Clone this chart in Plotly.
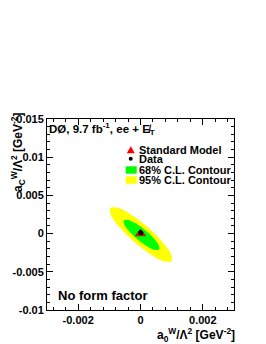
import plotly.graph_objects as go

# 95% C.L. contour (a0, aC)
c95_a0 = [0.000998, 0.000973, 0.000688, 0.000226, -0.000294, -0.00073, -0.000966,
          -0.000941, -0.000656, -0.000195, 0.000326, 0.000762]
c95_aC = [-0.00361, -0.00264, -0.00102, 0.000852, 0.00246, 0.00337, 0.00335,
          0.00238, 0.000755, -0.00111, -0.00272, -0.00363]
# 68% C.L. contour
c68_a0 = [0.000598, 0.000584, 0.000422, 0.000155, -0.000145, -0.000397, -0.000534,
          -0.00052, -0.000358, -0.0000909, 0.000208, 0.000461]
c68_aC = [-0.00208, -0.00152, -0.000605, 0.000432, 0.00131, 0.00179, 0.00174,
          0.00119, 0.000267, -0.000771, -0.00165, -0.00213]
sm_a0 = [0.0]
sm_aC = [0.0]
data_a0 = [0.00001]
data_aC = [0.0001]

x_ticks = [-0.002, 0, 0.002]
x_labels = ["-0.002", "0", "0.002"]
y_ticks = [-0.01, -0.005, 0, 0.005, 0.01, 0.015]
y_labels = ["-0.01", "-0.005", "0", "0.005", "0.01", "0.015"]

FONT = "Liberation Sans, Arial, sans-serif"

fig = go.Figure()
fig.add_trace(go.Scatter(x=c95_a0 + c95_a0[:1], y=c95_aC + c95_aC[:1], mode="lines",
                         fill="toself", fillcolor="#ffff00",
                         line=dict(width=0, color="#ffff00", shape="spline", smoothing=1.0),
                         hoverinfo="skip", showlegend=False))
fig.add_trace(go.Scatter(x=c68_a0 + c68_a0[:1], y=c68_aC + c68_aC[:1], mode="lines",
                         fill="toself", fillcolor="#00ff00",
                         line=dict(width=0, color="#00ff00", shape="spline", smoothing=1.0),
                         hoverinfo="skip", showlegend=False))
fig.add_trace(go.Scatter(x=sm_a0, y=sm_aC, mode="markers",
                         marker=dict(symbol="triangle-up", size=9, color="#ff0000",
                                     line=dict(width=0.6, color="#b00000")),
                         showlegend=False))
fig.add_trace(go.Scatter(x=data_a0, y=data_aC, mode="markers",
                         marker=dict(symbol="circle", size=5, color="black"),
                         showlegend=False))

axis_common = dict(showgrid=False, zeroline=False, showline=True, linecolor="black",
                   linewidth=1, mirror="ticks", ticks="inside", ticklen=6,
                   tickcolor="black", tickwidth=1,
                   tickfont=dict(family=FONT, size=11, color="black", weight="bold"))
fig.update_xaxes(range=[-0.003, 0.003], tickvals=x_ticks, ticktext=x_labels,
                 minor=dict(dtick=0.0004, tick0=0, ticks="inside", ticklen=3,
                            tickcolor="black"),
                 **axis_common)
fig.update_yaxes(range=[-0.01, 0.015], tickvals=y_ticks, ticktext=y_labels,
                 minor=dict(dtick=0.001, tick0=0, ticks="inside", ticklen=3,
                            tickcolor="black"),
                 **axis_common)

W, H = 266, 344
L, R, T, B = 47, 32, 119, 34
pw, ph = W - L - R, H - T - B


def px(xp):
    return (xp - L) / pw


def py(yp):
    return (H - B - yp) / ph


ann = []
ann.append(dict(text="DØ, 9.7 fb<sup>-1</sup>, ee + E\u0338<sub>T</sub>", x=px(47), y=py(129),
                xanchor="left", yanchor="middle",
                font=dict(family=FONT, size=11.5, color="black", weight="bold")))
ann.append(dict(text="No form factor", x=px(56), y=py(295), xanchor="left", yanchor="middle",
                font=dict(family=FONT, size=13, color="black", weight="bold")))
leg_texts = ["Standard Model", "Data", "68% C.L. Contour", "95% C.L. Contour"]
leg_y = [149.7, 158.7, 169.7, 180.3]
for t, yy in zip(leg_texts, leg_y):
    ann.append(dict(text=t, x=px(137), y=py(yy), xanchor="left", yanchor="middle",
                    font=dict(family=FONT, size=11, color="black", weight="bold")))
ann.append(dict(text="a<sub>0</sub><sup>W</sup>/Λ<sup>2</sup> [GeV<sup>-2</sup>]",
                x=px(237), y=py(335), xanchor="right", yanchor="middle",
                font=dict(family=FONT, size=12, color="black", weight="bold")))
ann.append(dict(text="a<sub>C</sub><sup>W</sup>/Λ<sup>2</sup> [GeV<sup>-2</sup>]",
                x=px(18), y=py(153), xanchor="center", yanchor="middle", textangle=-90,
                font=dict(family=FONT, size=12, color="black", weight="bold")))
for a in ann:
    a.update(xref="paper", yref="paper", showarrow=False)

shapes = []
# legend symbols
shapes.append(dict(type="rect", xref="paper", yref="paper", x0=px(125.7), x1=px(136.7),
                   y0=py(173.7), y1=py(166.3), fillcolor="#00ff00", line=dict(width=0)))
shapes.append(dict(type="rect", xref="paper", yref="paper", x0=px(125.7), x1=px(136.7),
                   y0=py(183.7), y1=py(176.3), fillcolor="#ffff00", line=dict(width=0)))
shapes.append(dict(type="path", xref="paper", yref="paper", xsizemode="pixel", ysizemode="pixel",
                   xanchor=px(130.8), yanchor=py(149.7),
                   path="M -4,-3.5 L 4,-3.5 L 0,3.5 Z", fillcolor="#ff0000", line=dict(width=0)))
shapes.append(dict(type="circle", xref="paper", yref="paper", xsizemode="pixel", ysizemode="pixel",
                   xanchor=px(130.7), yanchor=py(158.7), x0=-2, x1=2, y0=-2, y1=2,
                   fillcolor="black", line=dict(width=0)))

fig.update_layout(width=W, height=H, margin=dict(l=L, r=R, t=T, b=B),
                  plot_bgcolor="white", paper_bgcolor="white",
                  annotations=ann, shapes=shapes, showlegend=False,
                  font=dict(family=FONT, color="black"))
fig.write_html("out.html", config={"displayModeBar": False},
               post_script="document.body.style.margin='0';document.body.style.overflow='hidden';")
